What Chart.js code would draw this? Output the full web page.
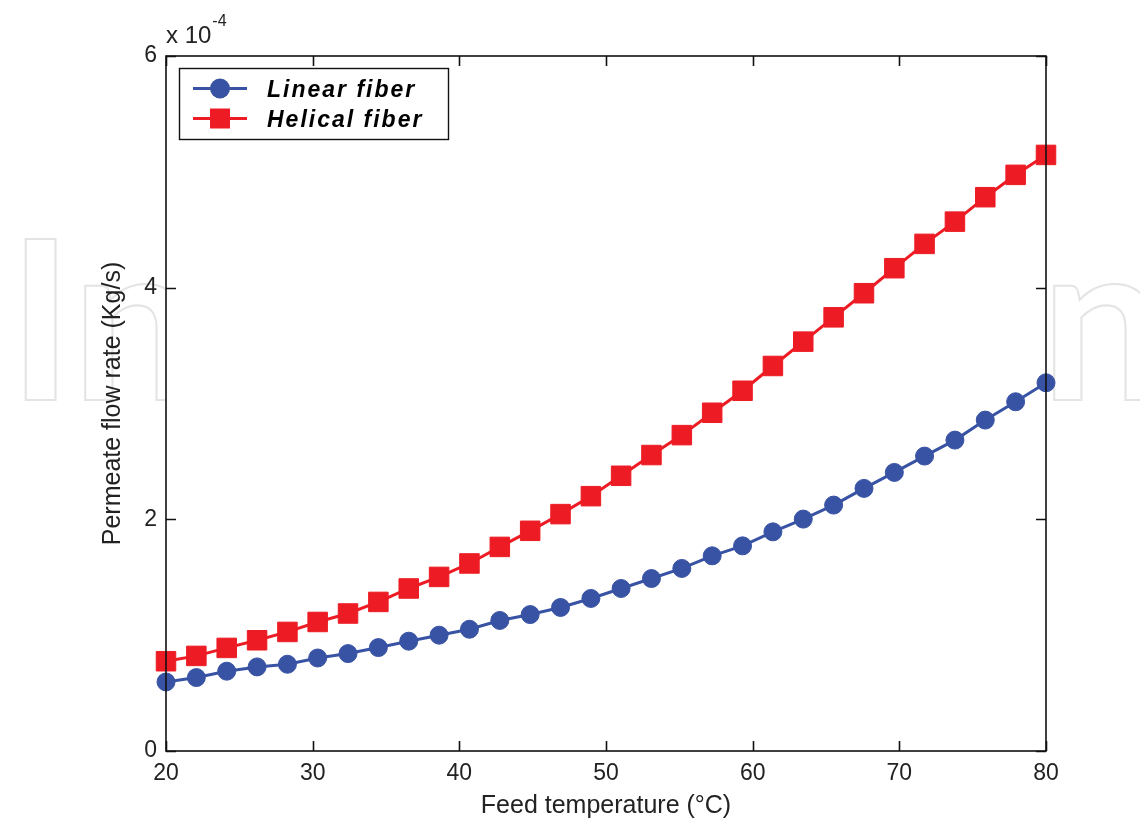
<!DOCTYPE html>
<html>
<head>
<meta charset="utf-8">
<script src="https://cdn.jsdelivr.net/npm/chart.js@4"></script>
<style>
  html, body { margin: 0; padding: 0; background: #fff; }
  #wrap { width: 1140px; height: 824px; }
</style>
</head>
<body>
<div id="wrap"><canvas id="c" width="1140" height="824"></canvas></div>
<script>
// Feed temperature (°C)
const temperatures = [20, 22.07, 24.14, 26.21, 28.28, 30.34, 32.41, 34.48, 36.55, 38.62,
  40.69, 42.76, 44.83, 46.90, 48.97, 51.03, 53.10, 55.17, 57.24, 59.31,
  61.38, 63.45, 65.52, 67.59, 69.66, 71.72, 73.79, 75.86, 77.93, 80];
// Permeate flow rate, in units of 1e-4 Kg/s
const linearFiber = [0.596, 0.634, 0.689, 0.726, 0.749, 0.803, 0.841, 0.893, 0.948, 1.000,
  1.051, 1.127, 1.178, 1.239, 1.317, 1.403, 1.489, 1.576, 1.685, 1.771,
  1.892, 2.002, 2.123, 2.267, 2.405, 2.546, 2.684, 2.857, 3.015, 3.179];
const helicalFiber = [0.775, 0.821, 0.890, 0.956, 1.028, 1.114, 1.187, 1.287, 1.403, 1.503,
  1.619, 1.762, 1.901, 2.045, 2.200, 2.376, 2.555, 2.727, 2.920, 3.110,
  3.324, 3.534, 3.744, 3.952, 4.168, 4.378, 4.570, 4.781, 4.974, 5.146];
const xTicks = [20, 30, 40, 50, 60, 70, 80];
const yTicks = [0, 2, 4, 6];
const seriesNames = ['Linear fiber', 'Helical fiber'];
const xTitle = 'Feed temperature (°C)';
const yTitle = 'Permeate flow rate (Kg/s)';
const exponentBase = 'x 10';
const exponentPower = '-4';
const watermark = 'IntechOpen';

const BLUE = 'rgb(57,83,164)';
const RED = 'rgb(237,28,36)';
const FONT = '"Liberation Sans", Arial, sans-serif';

const toXY = (xs, ys) => xs.map((x, i) => ({ x: x, y: ys[i] }));

const framePlugin = {
  id: 'frame',
  beforeDraw(chart) {
    const ctx = chart.ctx;
    const a = chart.chartArea;
    ctx.save();
    ctx.fillStyle = '#fff';
    ctx.fillRect(0, 0, chart.width, chart.height);
    // faint watermark behind the plot
    ctx.font = '700 222px Lato, sans-serif';
    ctx.textBaseline = 'alphabetic';
    ctx.textAlign = 'left';
    const ww = ctx.measureText(watermark).width;
    const sx = (1165 - 8) / ww;
    ctx.translate(8, 400);
    ctx.scale(sx, 1);
    ctx.strokeStyle = '#e4e4e4';
    ctx.lineWidth = 2 / sx;
    ctx.strokeText(watermark, 0, 0);
    ctx.setTransform(1, 0, 0, 1, 0, 0);
    // white plot area
    ctx.fillStyle = '#fff';
    ctx.fillRect(a.left, a.top, a.right - a.left, a.bottom - a.top);
    ctx.restore();
  },
  afterDraw(chart) {
    const ctx = chart.ctx;
    const a = chart.chartArea;
    const xs = chart.scales.x, ys = chart.scales.y;
    ctx.save();
    ctx.strokeStyle = '#111';
    ctx.lineWidth = 1.6;
    ctx.strokeRect(a.left, a.top, a.right - a.left, a.bottom - a.top);
    const L = 10;
    ctx.beginPath();
    xTicks.forEach(v => {
      const px = Math.round(xs.getPixelForValue(v)) + 0.5;
      ctx.moveTo(px, a.bottom); ctx.lineTo(px, a.bottom - L);
      ctx.moveTo(px, a.top); ctx.lineTo(px, a.top + L);
    });
    yTicks.forEach(v => {
      const py = Math.round(ys.getPixelForValue(v)) + 0.5;
      ctx.moveTo(a.left, py); ctx.lineTo(a.left + L, py);
      ctx.moveTo(a.right, py); ctx.lineTo(a.right - L, py);
    });
    ctx.stroke();

    // exponent label
    ctx.fillStyle = '#222';
    ctx.textBaseline = 'alphabetic';
    ctx.textAlign = 'left';
    ctx.font = '24px ' + FONT;
    ctx.fillText(exponentBase, a.left, a.top - 13);
    const w = ctx.measureText(exponentBase).width;
    ctx.font = '16px ' + FONT;
    ctx.fillText(exponentPower, a.left + w + 1, a.top - 30);

    // legend
    const bx = 179, by = 68, bw = 269, bh = 71;
    ctx.fillStyle = '#fff';
    ctx.fillRect(bx, by, bw, bh);
    ctx.strokeStyle = '#111';
    ctx.lineWidth = 1.4;
    ctx.strokeRect(bx + 0.5, by + 0.5, bw, bh);
    const rows = [
      { y: 88.5, color: BLUE, style: 'circle', label: seriesNames[0] },
      { y: 118.5, color: RED, style: 'rect', label: seriesNames[1] }
    ];
    rows.forEach(r => {
      ctx.strokeStyle = r.color;
      ctx.lineWidth = 3;
      ctx.beginPath();
      ctx.moveTo(193, r.y); ctx.lineTo(247, r.y);
      ctx.stroke();
      ctx.fillStyle = r.color;
      if (r.style === 'circle') {
        ctx.beginPath();
        ctx.arc(220, r.y, 10, 0, Math.PI * 2);
        ctx.fill();
      } else {
        ctx.fillRect(210, r.y - 10, 20, 20);
      }
      ctx.fillStyle = '#000';
      ctx.font = 'italic bold 23px ' + FONT;
      try { ctx.letterSpacing = '2px'; } catch (e) {}
      ctx.textBaseline = 'alphabetic';
      ctx.fillText(r.label, 267, r.y + 8);
      try { ctx.letterSpacing = '0px'; } catch (e) {}
    });
    ctx.restore();
  }
};

new Chart(document.getElementById('c'), {
  type: 'line',
  data: {
    datasets: [
      {
        label: seriesNames[0],
        data: toXY(temperatures, linearFiber),
        borderColor: BLUE,
        backgroundColor: BLUE,
        borderWidth: 3,
        pointStyle: 'circle',
        pointRadius: 9,
        pointBorderWidth: 1,
        pointHoverRadius: 9,
        tension: 0,
        clip: false
      },
      {
        label: seriesNames[1],
        data: toXY(temperatures, helicalFiber),
        borderColor: RED,
        backgroundColor: RED,
        borderWidth: 3,
        pointStyle: 'rect',
        pointRadius: 13.8,
        pointBorderWidth: 1,
        pointHoverRadius: 13.8,
        tension: 0,
        clip: false
      }
    ]
  },
  options: {
    responsive: false,
    devicePixelRatio: 1,
    animation: false,
    events: [],
    layout: { padding: { left: 0, top: 56, right: 94, bottom: 0 } },
    plugins: { legend: { display: false }, tooltip: { enabled: false } },
    scales: {
      x: {
        type: 'linear',
        min: 20, max: 80,
        afterBuildTicks: s => { s.ticks = xTicks.map(v => ({ value: v })); },
        afterFit: s => { s.height = 73; },
        grid: { display: false, drawTicks: false },
        border: { display: false },
        ticks: { color: '#222', font: { family: FONT, size: 23 }, padding: 9, maxRotation: 0 },
        title: { display: true, text: xTitle, color: '#222', font: { family: FONT, size: 25 }, padding: { top: 0, bottom: 3 } }
      },
      y: {
        type: 'linear',
        min: 0, max: 6,
        afterBuildTicks: s => { s.ticks = yTicks.map(v => ({ value: v })); },
        afterFit: s => { s.width = 166; },
        grid: { display: false, drawTicks: false },
        border: { display: false },
        ticks: { color: '#222', font: { family: FONT, size: 23 }, padding: 9 },
        title: { display: true, text: yTitle, color: '#222', font: { family: FONT, size: 25 }, padding: { top: 98, bottom: 0 } }
      }
    }
  },
  plugins: [framePlugin]
});
</script>
</body>
</html>
